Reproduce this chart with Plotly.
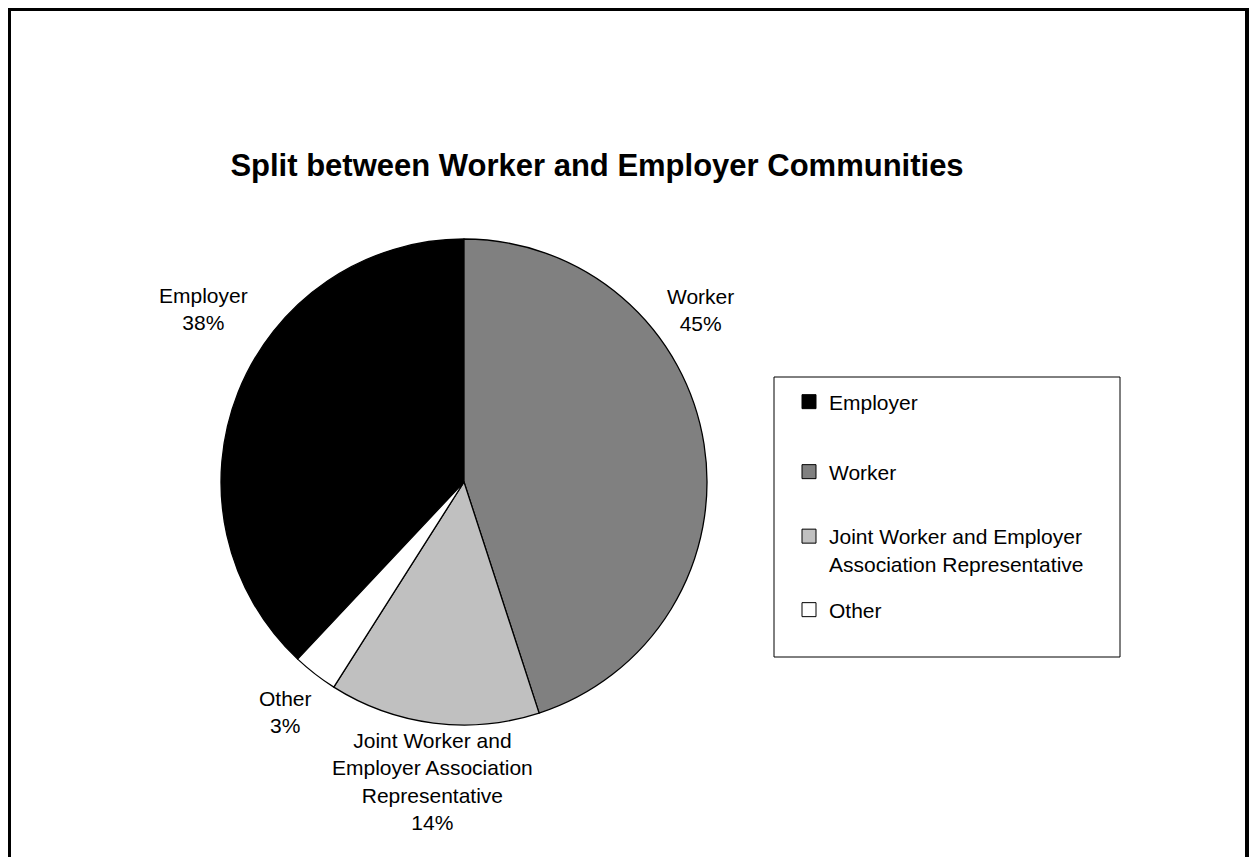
import plotly.graph_objects as go

# ---- data ----
categories = ["Employer", "Worker",
              "Joint Worker and Employer Association Representative", "Other"]
values = [38, 45, 14, 3]
legend_labels = ["Employer", "Worker",
                 "Joint Worker and Employer<br>Association Representative", "Other"]
slice_labels = ["Employer", "Worker",
                "Joint Worker and<br>Employer Association<br>Representative", "Other"]
title_text = "Split between Worker and Employer Communities"

# ---- styles / layout ----
OFF = 8                      # browser body margin
W, H = 1242, 849
colors = ["#000000", "#808080", "#C0C0C0", "#FFFFFF"]
FONT = "Arial, Liberation Sans, sans-serif"
cx, cy, R = 464, 482, 243    # page pixel coordinates
label_pos = {  # centres of the data-label boxes (page px)
    "Employer": (203, 309),
    "Worker": (700, 310),
    "Joint Worker and Employer Association Representative": (432, 781),
    "Other": (285, 712),
}
legend_centers = [402, 472, 550, 610]
legend_left = 789


def px(x):
    return (x - OFF) / W


def py(y):
    return 1 - (y - OFF) / H


total = sum(values)
fig = go.Figure()
fig.add_trace(go.Pie(
    labels=categories, values=values, sort=False, direction="clockwise",
    rotation=360 * (1 - values[0] / total),
    marker=dict(colors=colors, line=dict(color="black", width=1.3)),
    textinfo="none", hoverinfo="label+percent", showlegend=False,
    domain=dict(x=[px(cx - R), px(cx + R)], y=[py(cy + R), py(cy - R)]),
))

# legend entries (one small legend per category)
for i, (lab, col) in enumerate(zip(legend_labels, colors)):
    lname = "legend" if i == 0 else f"legend{i+1}"
    fig.add_trace(go.Scatter(
        x=[None], y=[None], mode="markers", name=lab, legend=lname,
        marker=dict(symbol="square", size=14, color=col,
                    line=dict(color="black", width=1)),
        showlegend=True, hoverinfo="skip"))

annotations = []
for cat, lab, v in zip(categories, slice_labels, values):
    x, y = label_pos[cat]
    annotations.append(dict(
        text=f"{lab}<br>{round(v / total * 100)}%", x=px(x), y=py(y),
        xref="paper", yref="paper", xanchor="center", yanchor="middle",
        showarrow=False, align="center",
        font=dict(family=FONT, size=21, color="black")))

layout = dict(
    width=W, height=H, margin=dict(l=0, r=0, t=0, b=0),
    paper_bgcolor="white", plot_bgcolor="white",
    xaxis=dict(visible=False), yaxis=dict(visible=False),
    title=dict(text=title_text, x=px(597), y=py(165), xanchor="center",
               yanchor="middle", xref="paper", yref="paper",
               font=dict(family=FONT, size=31, color="black", weight="bold")),
    annotations=annotations,
    shapes=[
        dict(type="rect", xref="paper", yref="paper", x0=px(9), x1=px(1247),
             y0=-0.05, y1=py(9), line=dict(color="black", width=4)),
        dict(type="rect", xref="paper", yref="paper", x0=px(774), x1=px(1120),
             y0=py(657), y1=py(377), line=dict(color="black", width=1)),
    ],
)
for i, c in enumerate(legend_centers):
    lname = "legend" if i == 0 else f"legend{i+1}"
    layout[lname] = dict(
        x=px(legend_left), xanchor="left", y=py(c), yanchor="middle",
        bgcolor="rgba(0,0,0,0)", borderwidth=0, valign="top",
        font=dict(family=FONT, size=21, color="black"))
fig.update_layout(**layout)
fig.write_html("out.html", config={"displayModeBar": False})
